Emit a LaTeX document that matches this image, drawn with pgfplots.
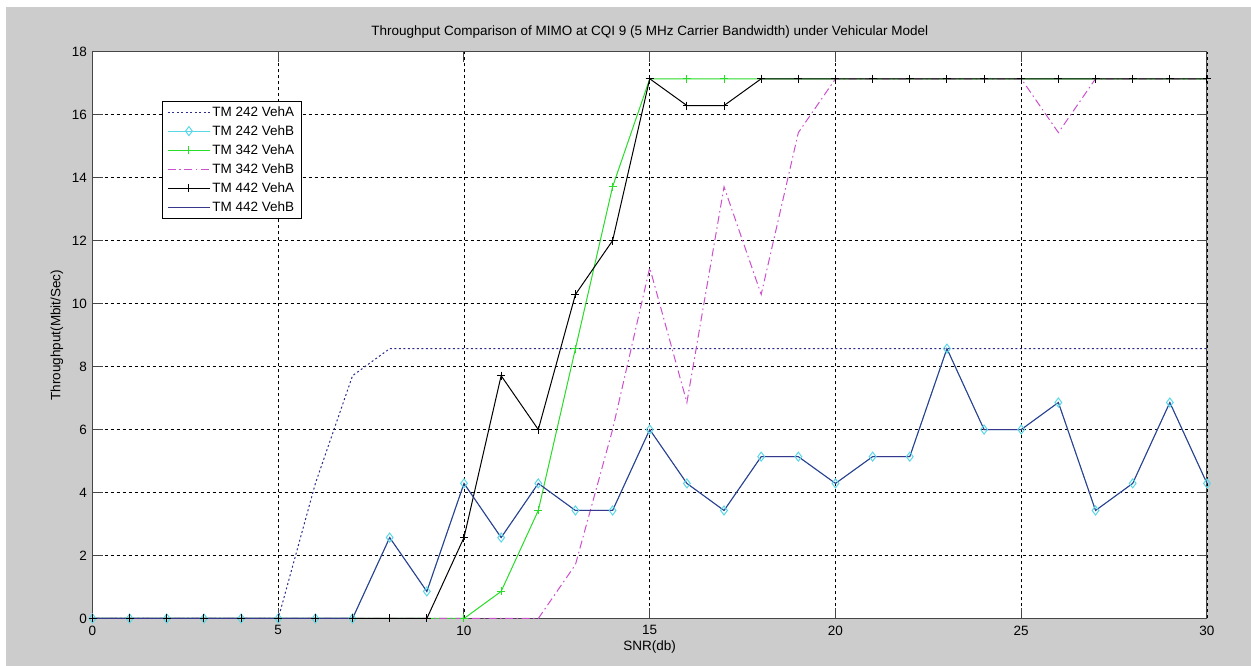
\documentclass[border=0pt]{standalone}
\usepackage{pgfplots}
\pgfplotsset{compat=1.18}
\usepackage{fontspec}
\setmainfont{Liberation Sans}

\definecolor{figgray}{RGB}{204,204,204}
\definecolor{vehAdot}{RGB}{45,45,140}
\definecolor{cyanB}{RGB}{90,215,230}
\definecolor{greenA}{RGB}{40,220,40}
\definecolor{magB}{RGB}{205,80,205}
\definecolor{navyB}{RGB}{55,55,140}
\definecolor{axisgray}{RGB}{70,70,70}

\begin{document}
\begin{tikzpicture}[x=1pt,y=1pt]
\fill[white] (0,0) rectangle (1251,666);
\fill[figgray] (6,0) rectangle (1251,659);
\begin{axis}[
  at={(92.5pt,47.5pt)}, anchor=south west,
  width=1114.5pt, height=566.8pt, scale only axis,
  axis background/.style={fill=white},
  xmin=0, xmax=30, ymin=0, ymax=18,
  xtick={0,5,...,30}, ytick={0,2,...,18},
  tick align=inside, tick pos=both,
  major tick length=10pt,
  axis line style={axisgray, line width=1pt},
  every tick/.style={axisgray, line width=1pt},
  grid=major,
  major grid style={black, line width=0.8pt, dash pattern=on 3pt off 3pt},
  font=\fontsize{13.5}{16}\selectfont,
  /pgf/number format/assume math mode=true,
  xticklabel style={anchor=north, inner sep=0pt, yshift=-7pt},
  yticklabel style={anchor=east, inner sep=0pt, xshift=-5.5pt},
  title={Throughput Comparison of MIMO at CQI 9 (5 MHz Carrier Bandwidth) under Vehicular Model},
  title style={at={(rel axis cs:0.5,1)}, anchor=base, yshift=10pt, inner sep=0pt},
  xlabel={SNR(db)},
  xlabel style={at={(rel axis cs:0.5,0)}, anchor=center, yshift=-28.5pt, inner sep=0pt},
  ylabel={Throughput(Mbit/Sec)},
  ylabel style={at={(rel axis cs:0,0.5)}, anchor=center, yshift=35.5pt, inner sep=0pt},
  clip=false,
  legend cell align=left,
  legend style={at={(rel axis cs:0.0624,0.9135)}, anchor=north west,
    draw=black, line width=0.8pt, fill=white, font=\fontsize{13.5}{16}\selectfont,
    nodes={inner sep=2pt, minimum height=16pt}, row sep=3pt, inner xsep=5pt, inner ysep=3pt},
  legend image code/.code={%
    \draw[mark repeat=2,mark phase=2] plot coordinates {(0pt,0pt) (21pt,0pt) (42pt,0pt)};},
]
% TM 242 VehA
\addplot[vehAdot, line width=1pt, dash pattern=on 2pt off 2.5pt, mark=none] table {
x y
0 0
1 0
2 0
3 0
4 0
5 0
6 4.29
7 7.71
8 8.57
9 8.57
10 8.57
15 8.57
20 8.57
25 8.57
30 8.57
};
\addlegendentry{TM 242 VehA}
% TM 242 VehB
\addplot[cyanB, line width=1pt, mark=diamond, mark size=4.5pt, mark options={solid, line width=1pt}] table {
x y
0 0
1 0
2 0
3 0
4 0
5 0
6 0
7 0
8 2.57
9 0.86
10 4.29
11 2.57
12 4.29
13 3.43
14 3.43
15 6.00
16 4.29
17 3.43
18 5.14
19 5.14
20 4.29
21 5.14
22 5.14
23 8.57
24 6.00
25 6.00
26 6.86
27 3.43
28 4.29
29 6.86
30 4.29
};
\addlegendentry{TM 242 VehB}
% TM 342 VehA
\addplot[greenA, line width=1pt, mark=+, mark size=4pt, mark options={solid, line width=1pt}] table {
x y
0 0
1 0
2 0
3 0
4 0
5 0
6 0
7 0
8 0
9 0
10 0
11 0.86
12 3.43
13 8.57
14 13.71
15 17.14
16 17.14
17 17.14
18 17.14
19 17.14
20 17.14
21 17.14
22 17.14
23 17.14
24 17.14
25 17.14
26 17.14
27 17.14
28 17.14
29 17.14
30 17.14
};
\addlegendentry{TM 342 VehA}
% TM 342 VehB
\addplot[magB, line width=1pt, dash pattern=on 8pt off 3.5pt on 1.5pt off 3.5pt, mark=none] table {
x y
0 0
1 0
2 0
3 0
4 0
5 0
6 0
7 0
8 0
9 0
10 0
11 0
12 0
13 1.71
14 6.00
15 11.14
16 6.86
17 13.71
18 10.29
19 15.43
20 17.14
21 17.14
22 17.14
23 17.14
24 17.14
25 17.14
26 15.43
27 17.14
28 17.14
29 17.14
30 17.14
};
\addlegendentry{TM 342 VehB}
% TM 442 VehA
\addplot[black, line width=1pt, mark=+, mark size=4pt, mark options={solid, line width=1pt}] table {
x y
0 0
1 0
2 0
3 0
4 0
5 0
6 0
7 0
8 0
9 0
10 2.57
11 7.71
12 6.00
13 10.29
14 12.00
15 17.14
16 16.29
17 16.29
18 17.14
19 17.14
20 17.14
21 17.14
22 17.14
23 17.14
24 17.14
25 17.14
26 17.14
27 17.14
28 17.14
29 17.14
30 17.14
};
\addlegendentry{TM 442 VehA}
% TM 442 VehB
\addplot[navyB, line width=1pt, mark=none] table {
x y
0 0
1 0
2 0
3 0
4 0
5 0
6 0
7 0
8 2.57
9 0.86
10 4.29
11 2.57
12 4.29
13 3.43
14 3.43
15 6.00
16 4.29
17 3.43
18 5.14
19 5.14
20 4.29
21 5.14
22 5.14
23 8.57
24 6.00
25 6.00
26 6.86
27 3.43
28 4.29
29 6.86
30 4.29
};
\addlegendentry{TM 442 VehB}
\end{axis}
\end{tikzpicture}
\end{document}
